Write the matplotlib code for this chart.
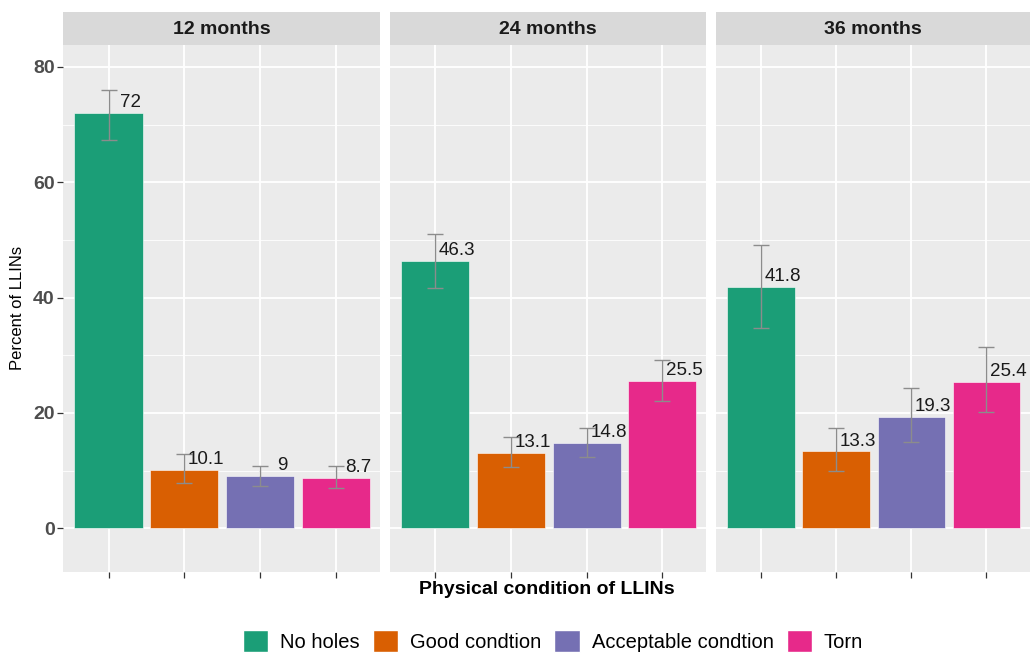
import numpy as np
import matplotlib
matplotlib.use("Agg")
import matplotlib.pyplot as plt
from matplotlib.patches import Patch

plt.rcParams['font.family'] = ['Liberation Sans', 'DejaVu Sans']

# survey rounds and net condition categories
periods = ['12 months', '24 months', '36 months']
conditions = ['No holes', 'Good condtion', 'Acceptable condtion', 'Torn']
colors = ['#1B9E77', '#D95F02', '#7570B3', '#E7298A']

# percent of LLINs per condition, one list per period
pct_12 = [72, 10.1, 9, 8.7]
pct_24 = [46.3, 13.1, 14.8, 25.5]
pct_36 = [41.8, 13.3, 19.3, 25.4]

# 95% CI bounds
lo_12 = [67.4, 7.8, 7.3, 6.9]
hi_12 = [76.0, 12.9, 10.8, 10.8]
lo_24 = [41.6, 10.6, 12.4, 22.0]
hi_24 = [51.0, 15.9, 17.4, 29.1]
lo_36 = [34.8, 9.9, 15.0, 20.1]
hi_36 = [49.1, 17.3, 24.3, 31.5]

values = [pct_12, pct_24, pct_36]
lows = [lo_12, lo_24, lo_36]
highs = [hi_12, hi_24, hi_36]

W, H = 1030, 653
fig = plt.figure(figsize=(W / 100, H / 100), dpi=100)

panel_x = [(63, 380), (390, 706), (716, 1030)]
top, bottom = 45, 572
strip_top = 12

x = np.arange(len(conditions))
for i, (x0, x1) in enumerate(panel_x):
    ax = fig.add_axes([x0 / W, 1 - bottom / H, (x1 - x0) / W, (bottom - top) / H])
    ax.set_facecolor('#EBEBEB')
    for s in ax.spines.values():
        s.set_visible(False)
    ax.set_xlim(-0.6, 3.58)
    ax.set_ylim(-7.6, 83.8)
    ax.set_yticks([0, 20, 40, 60, 80])
    ax.set_yticks([10, 30, 50, 70], minor=True)
    ax.set_xticks(x)
    ax.set_xticklabels([])
    ax.grid(True, which='major', color='white', linewidth=1.3)
    ax.grid(True, which='minor', axis='y', color='white', linewidth=0.6)
    ax.set_axisbelow(True)
    ax.tick_params(axis='both', which='major', length=4, color='#333333', width=0.9)
    ax.tick_params(axis='y', which='minor', length=0)
    if i == 0:
        ax.tick_params(axis='y', labelsize=14, labelcolor='#4D4D4D', pad=2)
        for t in ax.get_yticklabels():
            t.set_fontweight('bold')
    else:
        ax.tick_params(axis='y', length=0, labelleft=False)

    vals = np.array(values[i])
    lo = np.array(lows[i])
    hi = np.array(highs[i])
    ax.bar(x, vals, width=0.9, color=colors, edgecolor='white', linewidth=0.4)
    ax.errorbar(x, vals, yerr=[vals - lo, hi - vals], fmt='none',
                ecolor='#8C8C8C', elinewidth=1.0, capsize=5.5, capthick=1.0)
    for xi, v in zip(x, vals):
        ax.text(xi + 0.29, v + 1.8, f'{v:g}', ha='center', va='center',
                fontsize=13.5, color='#1A1A1A')

    # facet strip
    sax = fig.add_axes([x0 / W, 1 - top / H, (x1 - x0) / W, (top - strip_top) / H])
    sax.set_facecolor('#D9D9D9')
    sax.set_xticks([])
    sax.set_yticks([])
    for s in sax.spines.values():
        s.set_visible(False)
    sax.text(0.5, 0.48, periods[i], ha='center', va='center', fontsize=14,
             fontweight='bold', color='#1A1A1A', transform=sax.transAxes)

fig.text(547 / W, 1 - 590 / H, 'Physical condition of LLINs', ha='center', va='center',
         fontsize=14, fontweight='bold', color='black')
fig.text(18 / W, 1 - 308 / H, 'Percent of LLINs', ha='center', va='center',
         rotation=90, fontsize=12, color='black')

handles = [Patch(facecolor=c, edgecolor='white', label=l) for c, l in zip(colors, conditions)]
fig.legend(handles=handles, loc='center', bbox_to_anchor=(553 / W, 1 - 641 / H), ncol=4,
           frameon=False, fontsize=14.5, handlelength=1.25, handleheight=1.25,
           handletextpad=0.6, columnspacing=0.65, borderaxespad=0)

fig.savefig('out.png', dpi=100)
